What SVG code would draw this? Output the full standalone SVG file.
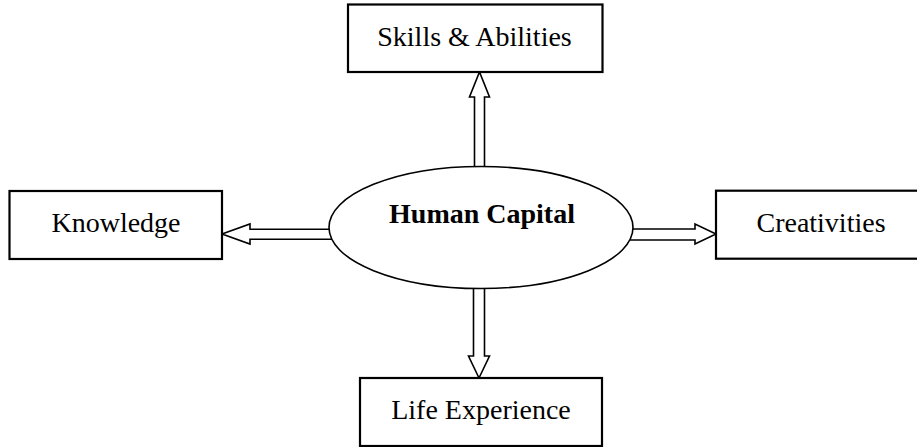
<svg xmlns="http://www.w3.org/2000/svg" width="917" height="447" viewBox="0 0 917 447">
<style>
.box{fill:#fff;stroke:#000;stroke-width:2.2}
.arr{fill:#fff;stroke:#000;stroke-width:1.6;stroke-linejoin:miter}
.t{font-family:"Liberation Serif","Times New Roman",serif;font-size:28px;fill:#000;text-anchor:middle}
.b{font-weight:bold}
</style>
<rect width="917" height="447" fill="#fff"/>
<g id="connectors">
<polygon class="arr" points="474.5,180 474.5,97 469.5,97 479.5,72 489.5,97 484.5,97 484.5,180"/>
<polygon class="arr" points="473.5,275 473.5,356 468.5,356 479,378 489.5,356 484.5,356 484.5,275"/>
<polygon class="arr" points="345,229.3 250,229.3 250,224 222,234 250,244 250,239.3 345,239.3"/>
<polygon class="arr" points="620,229 695,229 695,224 716,234 695,244 695,240 620,240"/>
</g>
<g id="human-capital">
<ellipse class="arr" cx="481" cy="227.5" rx="152" ry="61"/>
<text class="t b" x="482" y="223">Human Capital</text>
</g>
<g id="skills">
<rect class="box" x="348" y="4.5" width="254.5" height="67.5"/>
<text class="t" x="474.5" y="46">Skills &amp; Abilities</text>
</g>
<g id="knowledge">
<rect class="box" x="9.5" y="191" width="212.5" height="68"/>
<text class="t" x="116" y="232">Knowledge</text>
</g>
<g id="creativities">
<rect class="box" x="716" y="190.7" width="215" height="68"/>
<text class="t" x="821" y="232">Creativities</text>
</g>
<g id="life-experience">
<rect class="box" x="360" y="378" width="242" height="68"/>
<text class="t" x="481" y="419">Life Experience</text>
</g>
</svg>
